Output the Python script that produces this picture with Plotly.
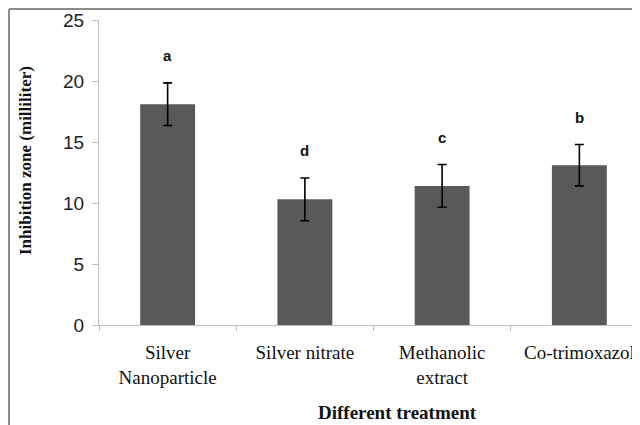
import plotly.graph_objects as go

categories = ["Silver<br>Nanoparticle", "Silver nitrate", "Methanolic<br>extract", "Co-trimoxazol"]
values = [18.1, 10.3, 11.4, 13.1]
errors = [1.75, 1.75, 1.75, 1.7]
letters = ["a", "d", "c", "b"]
y_ticks = [0, 5, 10, 15, 20, 25]

# page places the figure 8px from top-left; plot area is 91px from the figure's left edge
PW = 549
PH = 305


def px(sx):
    return (sx - 99) / PW


def py(sy):
    return (325 - sy) / PH


fig = go.Figure()
fig.add_trace(go.Bar(
    x=categories, y=values, width=0.4,
    marker=dict(color="#595959", line=dict(width=0)),
    error_y=dict(type="data", array=errors, color="#000000", thickness=1.6, width=4.5),
))

for c, v, e, t in zip(categories, values, errors, letters):
    fig.add_annotation(x=c, y=v + e, text="<b>" + t + "</b>", showarrow=False,
                       yanchor="middle", yshift=27,
                       font=dict(family="Liberation Sans, Arial", size=15, color="#111111"))

fig.add_annotation(xref="paper", yref="paper", x=px(25), y=py(161),
                   text="<b>Inhibition zone (milliliter)</b>", textangle=-90, showarrow=False,
                   xanchor="center", yanchor="middle",
                   font=dict(family="Liberation Serif, Times New Roman", size=17, color="#111111"))
fig.add_annotation(xref="paper", yref="paper", x=px(397), y=py(412),
                   text="<b>Different treatment</b>", showarrow=False,
                   xanchor="center", yanchor="middle",
                   font=dict(family="Liberation Serif, Times New Roman", size=19, color="#111111"))

# image frame (left and top)
fx = px(9)
fy = py(9)
fig.add_shape(type="line", xref="paper", yref="paper", x0=fx, x1=fx, y0=fy, y1=-0.5,
              line=dict(color="#8a8a8a", width=2))
fig.add_shape(type="line", xref="paper", yref="paper", x0=fx, x1=1.2, y0=fy, y1=fy,
              line=dict(color="#8a8a8a", width=2))

fig.update_layout(
    width=640, height=425,
    margin=dict(l=91, r=0, t=12, b=108),
    paper_bgcolor="white", plot_bgcolor="white",
    showlegend=False,
    xaxis=dict(range=[-0.5, 3.5], showgrid=False, showline=True, linecolor="#bfbfbf", linewidth=1,
               ticks="outside", tickson="boundaries", ticklen=5, tickcolor="#bfbfbf",
               ticklabelstandoff=10,
               tickfont=dict(family="Liberation Serif, Times New Roman", size=19, color="#111111"),
               fixedrange=True),
    yaxis=dict(range=[0, 25], tickvals=y_ticks, showgrid=False, showline=True, linecolor="#bfbfbf",
               linewidth=1, ticks="outside", ticklen=6, tickcolor="#bfbfbf", zeroline=False,
               ticklabelstandoff=4,
               tickfont=dict(family="Liberation Sans, Arial", size=19, color="#222222")),
)

fig.write_html("out.html")
